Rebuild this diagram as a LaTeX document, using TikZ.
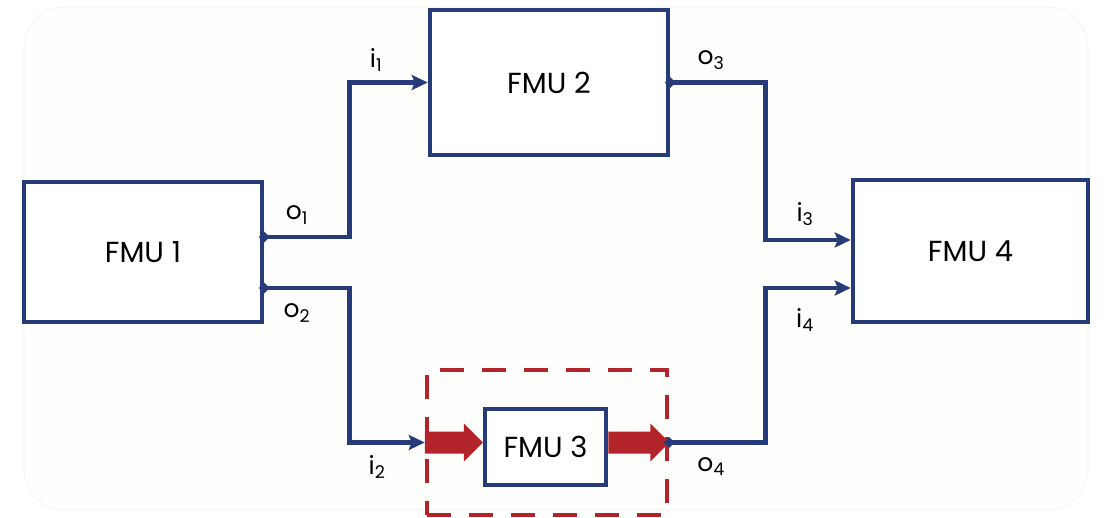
\documentclass[tikz,border=0pt]{standalone}
\usepackage{fontspec}
\setmainfont{Poppins}
\usetikzlibrary{arrows.meta,shapes.geometric,calc}
\definecolor{navy}{HTML}{263B78}
\definecolor{fmured}{HTML}{B3232A}
\definecolor{bgfill}{HTML}{FEFEFD}
\definecolor{bgline}{HTML}{F0F0EE}
\tikzset{
  fmu/.style={draw=navy,line width=4.5pt,fill=white,rectangle,inner sep=0pt,font=\fontsize{29}{34}\selectfont},
  conn/.style={draw=navy,line width=4.5pt},
  arr/.style={conn,-{Stealth[length=16pt,width=15pt,inset=3pt]}},
  lbl/.style={font=\fontsize{25}{29}\selectfont,text=black,inner sep=0pt},
  dot/.style={diamond,fill=navy,inner sep=0pt,minimum width=11pt,minimum height=11pt},
  dashbox/.style={draw=fmured,line width=4.5pt,dash pattern=on 24pt off 18pt,rectangle,inner sep=0pt},
}
\begin{document}
\begin{tikzpicture}[x=1pt,y=-1pt]
\useasboundingbox (0,0) rectangle (1107,518);
\fill[bgfill,draw=bgline,line width=0.6pt,rounded corners=40pt] (24,7) rectangle (1088,510);
\node[fmu,minimum width=238pt,minimum height=140pt] (f1) at (143,252) {FMU 1};
\node[fmu,minimum width=238pt,minimum height=145pt] (f2) at (549,82.5) {FMU 2};
\node[fmu,minimum width=235pt,minimum height=142pt] (f4) at (970.5,251) {FMU 4};
\node[dashbox,minimum width=240pt,minimum height=145pt] (db) at (547,442.5) {};
\node[fmu,minimum width=121pt,minimum height=76pt] (f3) at (545.5,447) {FMU 3};
% connectors
\coordinate (o1s) at ([yshift=15pt]f1.east);
\coordinate (o2s) at ([yshift=-36pt]f1.east);
\coordinate (i3e) at ([yshift=11pt]f4.west);
\coordinate (i4e) at ([yshift=-37pt]f4.west);
\draw[arr] (o1s) -- ++(85,0) |- (f2.west);
\draw[arr] (o2s) -- ++(85,0) |- (db.west);
\draw[arr] (f2.east) -- ++(95,0) |- (i3e);
\draw[arr] (db.east) -- ++(96,0) |- (i4e);
% red thick arrows
\fill[fmured] (db.west) ++(0,-11) -- ++(39,0) -- ++(0,-8) -- (f3.west |- db.west) -- ++(-19,19) -- ++(0,-8) -- ++(-39,0) -- cycle;
\fill[fmured] (f3.east |- db.west) ++(0,-11) -- ++(42,0) -- ++(0,-8) -- (db.east) -- ++(-19,19) -- ++(0,-8) -- ++(-42,0) -- cycle;
% dots
\node[dot] at (o1s) {};
\node[dot] at (o2s) {};
\node[dot] at (f2.east) {};
\node[dot] at (db.east) {};
% labels
\node[lbl] (lo1) at (297,215) {o\textsubscript{1}};
\node[lbl] (lo2) at (297,313) {o\textsubscript{2}};
\node[lbl] (li1) at (376,60) {i\textsubscript{1}};
\node[lbl] (lo3) at (711,60) {o\textsubscript{3}};
\node[lbl] (li3) at (805,214) {i\textsubscript{3}};
\node[lbl] (li4) at (805,320) {i\textsubscript{4}};
\node[lbl] (li2) at (377,467) {i\textsubscript{2}};
\node[lbl] (lo4) at (711,467) {o\textsubscript{4}};
\end{tikzpicture}
\end{document}
